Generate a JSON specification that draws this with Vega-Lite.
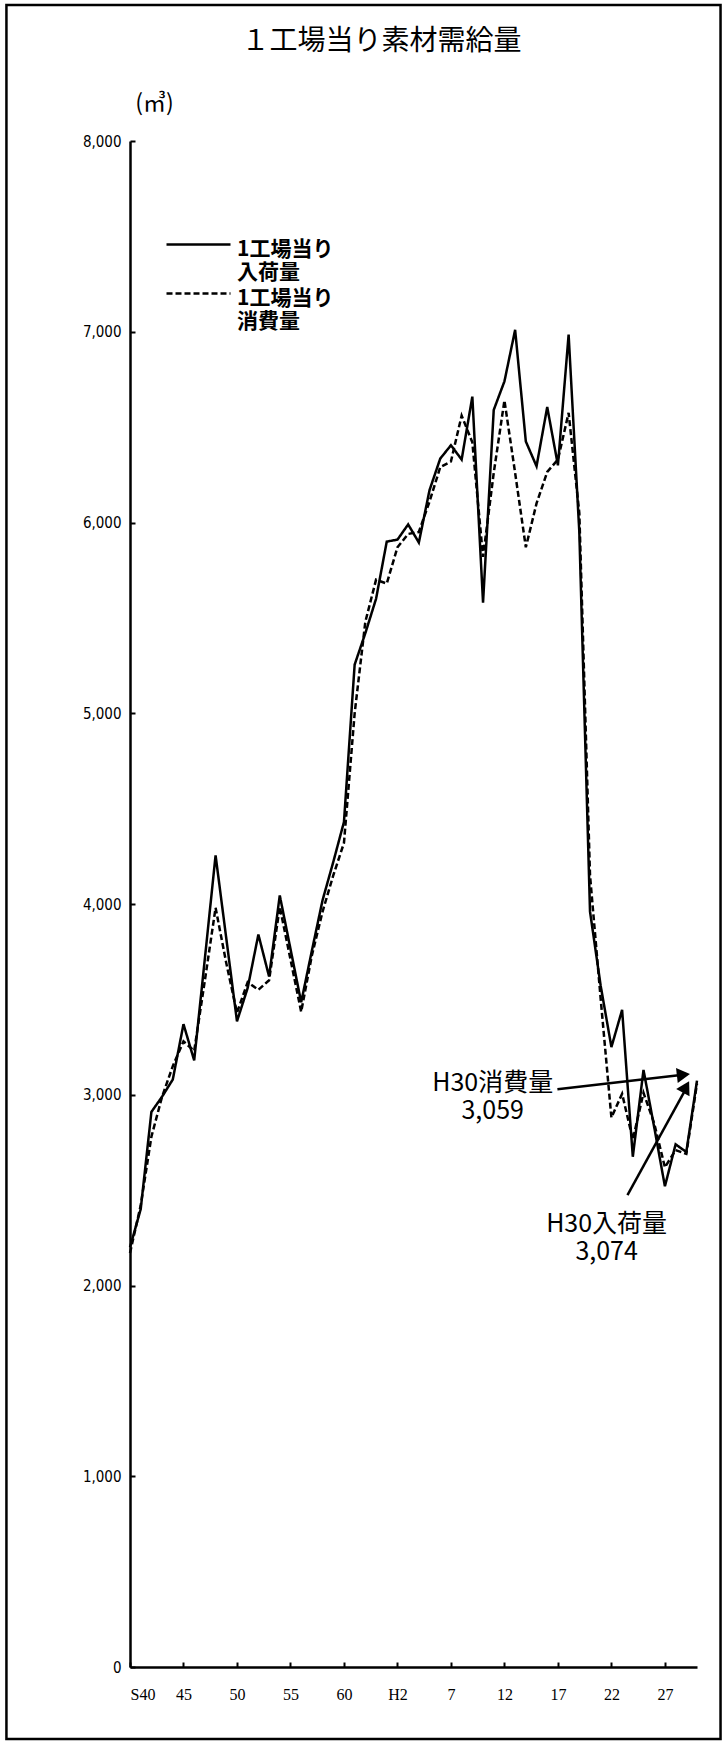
{
  "$schema": "https://vega.github.io/schema/vega-lite/v6.json",
  "width": 567,
  "height": 1526,
  "autosize": {"type": "none"},
  "padding": {"left": 130, "top": 141, "right": 31, "bottom": 77},
  "background": "white",
  "title": {
    "text": "１工場当り素材需給量",
    "font": "Noto Sans CJK JP",
    "fontSize": 28,
    "fontWeight": "normal",
    "color": "black",
    "anchor": "middle",
    "frame": "group",
    "dx": -32,
    "offset": -52
  },
  "config": {
    "view": {"stroke": null},
    "font": "Noto Sans CJK JP"
  },
  "datasets": {
    "main": [
      {"year":1965,"s":"入荷量","v":2200},{"year":1966,"s":"入荷量","v":2400},{"year":1967,"s":"入荷量","v":2910},{"year":1968,"s":"入荷量","v":2990},{"year":1969,"s":"入荷量","v":3080},{"year":1970,"s":"入荷量","v":3370},{"year":1971,"s":"入荷量","v":3180},{"year":1972,"s":"入荷量","v":3715},{"year":1973,"s":"入荷量","v":4255},{"year":1974,"s":"入荷量","v":3820},{"year":1975,"s":"入荷量","v":3385},{"year":1976,"s":"入荷量","v":3560},{"year":1977,"s":"入荷量","v":3840},{"year":1978,"s":"入荷量","v":3620},{"year":1979,"s":"入荷量","v":4045},{"year":1980,"s":"入荷量","v":3765},{"year":1981,"s":"入荷量","v":3485},{"year":1982,"s":"入荷量","v":3755},{"year":1983,"s":"入荷量","v":4020},{"year":1984,"s":"入荷量","v":4220},{"year":1985,"s":"入荷量","v":4430},{"year":1986,"s":"入荷量","v":5255},{"year":1987,"s":"入荷量","v":5420},{"year":1988,"s":"入荷量","v":5600},{"year":1989,"s":"入荷量","v":5900},{"year":1990,"s":"入荷量","v":5910},{"year":1991,"s":"入荷量","v":5990},{"year":1992,"s":"入荷量","v":5895},{"year":1993,"s":"入荷量","v":6170},{"year":1994,"s":"入荷量","v":6335},{"year":1995,"s":"入荷量","v":6405},{"year":1996,"s":"入荷量","v":6330},{"year":1997,"s":"入荷量","v":6660},{"year":1998,"s":"入荷量","v":5580},{"year":1999,"s":"入荷量","v":6590},{"year":2000,"s":"入荷量","v":6740},{"year":2001,"s":"入荷量","v":7010},{"year":2002,"s":"入荷量","v":6425},{"year":2003,"s":"入荷量","v":6295},{"year":2004,"s":"入荷量","v":6605},{"year":2005,"s":"入荷量","v":6300},{"year":2006,"s":"入荷量","v":6985},{"year":2007,"s":"入荷量","v":5950},{"year":2008,"s":"入荷量","v":3960},{"year":2009,"s":"入荷量","v":3570},{"year":2010,"s":"入荷量","v":3250},{"year":2011,"s":"入荷量","v":3445},{"year":2012,"s":"入荷量","v":2675},{"year":2013,"s":"入荷量","v":3130},{"year":2014,"s":"入荷量","v":2830},{"year":2015,"s":"入荷量","v":2520},{"year":2016,"s":"入荷量","v":2740},{"year":2017,"s":"入荷量","v":2700},{"year":2018,"s":"入荷量","v":3074},
      {"year":1965,"s":"消費量","v":2170},{"year":1966,"s":"消費量","v":2420},{"year":1967,"s":"消費量","v":2780},{"year":1968,"s":"消費量","v":2990},{"year":1969,"s":"消費量","v":3150},{"year":1970,"s":"消費量","v":3280},{"year":1971,"s":"消費量","v":3230},{"year":1972,"s":"消費量","v":3600},{"year":1973,"s":"消費量","v":3980},{"year":1974,"s":"消費量","v":3690},{"year":1975,"s":"消費量","v":3430},{"year":1976,"s":"消費量","v":3590},{"year":1977,"s":"消費量","v":3550},{"year":1978,"s":"消費量","v":3600},{"year":1979,"s":"消費量","v":3985},{"year":1980,"s":"消費量","v":3710},{"year":1981,"s":"消費量","v":3435},{"year":1982,"s":"消費量","v":3730},{"year":1983,"s":"消費量","v":3960},{"year":1984,"s":"消費量","v":4150},{"year":1985,"s":"消費量","v":4320},{"year":1986,"s":"消費量","v":5000},{"year":1987,"s":"消費量","v":5480},{"year":1988,"s":"消費量","v":5700},{"year":1989,"s":"消費量","v":5680},{"year":1990,"s":"消費量","v":5870},{"year":1991,"s":"消費量","v":5940},{"year":1992,"s":"消費量","v":5950},{"year":1993,"s":"消費量","v":6110},{"year":1994,"s":"消費量","v":6290},{"year":1995,"s":"消費量","v":6320},{"year":1996,"s":"消費量","v":6560},{"year":1997,"s":"消費量","v":6420},{"year":1998,"s":"消費量","v":5820},{"year":1999,"s":"消費量","v":6260},{"year":2000,"s":"消費量","v":6640},{"year":2001,"s":"消費量","v":6260},{"year":2002,"s":"消費量","v":5870},{"year":2003,"s":"消費量","v":6100},{"year":2004,"s":"消費量","v":6265},{"year":2005,"s":"消費量","v":6330},{"year":2006,"s":"消費量","v":6575},{"year":2007,"s":"消費量","v":6050},{"year":2008,"s":"消費量","v":4150},{"year":2009,"s":"消費量","v":3500},{"year":2010,"s":"消費量","v":2880},{"year":2011,"s":"消費量","v":3005},{"year":2012,"s":"消費量","v":2765},{"year":2013,"s":"消費量","v":3010},{"year":2014,"s":"消費量","v":2850},{"year":2015,"s":"消費量","v":2620},{"year":2016,"s":"消費量","v":2710},{"year":2017,"s":"消費量","v":2690},{"year":2018,"s":"消費量","v":3059}
    ],
    "notes": [
      {"year": 1998.9, "v": 3020, "label": "H30消費量\n3,059"},
      {"year": 2009.55, "v": 2280, "label": "H30入荷量\n3,074"}
    ],
    "arrows": [
      {"year": 2004.95, "v": 3029, "year2": 2016.9, "v2": 3106},
      {"year": 2011.5, "v": 2474, "year2": 2017.05, "v2": 3040}
    ]
  },
  "layer": [
    {
      "data": {"values": [{}]},
      "mark": {"type": "rect", "fill": "transparent", "stroke": "black", "strokeWidth": 2.5},
      "encoding": {
        "x": {"datum": 1953.45, "type": "quantitative", "scale": {"domain": [1965, 2018], "nice": false, "zero": false}},
        "x2": {"datum": 2020.2},
        "y": {"datum": 8713, "type": "quantitative", "scale": {"domain": [0, 8000], "nice": false}},
        "y2": {"datum": -378}
      }
    },
    {
      "data": {"name": "main"},
      "mark": {"type": "line", "color": "black"},
      "encoding": {
        "x": {
          "field": "year", "type": "quantitative",
          "scale": {"domain": [1965, 2018], "nice": false, "zero": false},
          "axis": {
            "title": null,
            "values": [1965, 1970, 1975, 1980, 1985, 1990, 1995, 2000, 2005, 2010, 2015],
            "labelExpr": "datum.value == 1965 ? 'S40' : datum.value < 1989 ? '' + (datum.value - 1925) : datum.value == 1990 ? 'H2' : '' + (datum.value - 1988)",
            "labelFont": "Liberation Serif",
            "labelFontSize": 16,
            "labelColor": "black",
            "labelPadding": 24,
            "tickSize": -5,
            "tickWidth": 2,
            "tickColor": "black",
            "domainColor": "black",
            "domainWidth": 2.5,
            "grid": false
          }
        },
        "y": {
          "field": "v", "type": "quantitative",
          "scale": {"domain": [0, 8000], "nice": false},
          "axis": {
            "title": "(㎥)",
            "titleAngle": 0,
            "titleX": 24,
            "titleY": -38,
            "titleAlign": "center",
            "titleBaseline": "middle",
            "titleFont": "Noto Sans CJK JP",
            "titleFontSize": 23,
            "titleFontWeight": "normal",
            "titleColor": "black",
            "values": [0, 1000, 2000, 3000, 4000, 5000, 6000, 7000, 8000],
            "labelExpr": "format(datum.value, ',')",
            "labelFont": "Liberation Sans Narrow, DejaVu Sans Condensed, sans-serif",
            "labelFontSize": 15,
            "labelColor": "black",
            "labelPadding": 14,
            "tickSize": -5,
            "tickWidth": 2,
            "tickColor": "black",
            "domainColor": "black",
            "domainWidth": 2.5,
            "grid": false
          }
        },
        "strokeDash": {
          "field": "s", "type": "nominal",
          "scale": {"domain": ["入荷量", "消費量"], "range": [[1, 0], [6, 3]]},
          "legend": {
            "title": null,
            "orient": "none",
            "legendX": 58,
            "legendY": 98,
            "padding": 0,
            "symbolType": "M-4,-0.625H4",
            "symbolSize": 256,
            "symbolStrokeWidth": 2.5,
            "symbolStrokeColor": "black",
            "symbolFillColor": "transparent",
            "labelExpr": "['1工場当り', datum.label]",
            "labelFont": "Noto Sans CJK JP",
            "labelFontSize": 21,
            "labelFontWeight": "bold",
            "labelColor": "black",
            "labelBaseline": "middle",
            "labelLineHeight": 26.5,
            "labelOffset": 28,
            "labelLimit": 300,
            "rowPadding": 4
          }
        },
        "strokeWidth": {"value": 2.5}
      }
    },
    {
      "data": {"name": "arrows"},
      "mark": {"type": "rule", "color": "black", "strokeWidth": 2.5},
      "encoding": {
        "x": {"field": "year", "type": "quantitative"},
        "y": {"field": "v", "type": "quantitative"},
        "x2": {"field": "year2"},
        "y2": {"field": "v2"}
      }
    },
    {
      "data": {"values": [{}]},
      "mark": {"type": "point", "shape": "triangle-right", "filled": true, "color": "black", "size": 230, "angle": 353.4, "opacity": 1},
      "encoding": {
        "x": {"datum": 2016.73, "type": "quantitative"},
        "y": {"datum": 3105, "type": "quantitative"}
      }
    },
    {
      "data": {"values": [{}]},
      "mark": {"type": "point", "shape": "triangle-right", "filled": true, "color": "black", "size": 230, "angle": 298.5, "opacity": 1},
      "encoding": {
        "x": {"datum": 2016.97, "type": "quantitative"},
        "y": {"datum": 3041, "type": "quantitative"}
      }
    },
    {
      "data": {"name": "notes"},
      "mark": {"type": "text", "font": "Noto Sans CJK JP", "fontSize": 25, "color": "black", "align": "center", "baseline": "alphabetic", "lineBreak": "\n", "lineHeight": 28},
      "encoding": {
        "x": {"field": "year", "type": "quantitative"},
        "y": {"field": "v", "type": "quantitative"},
        "text": {"field": "label"}
      }
    }
  ]
}
